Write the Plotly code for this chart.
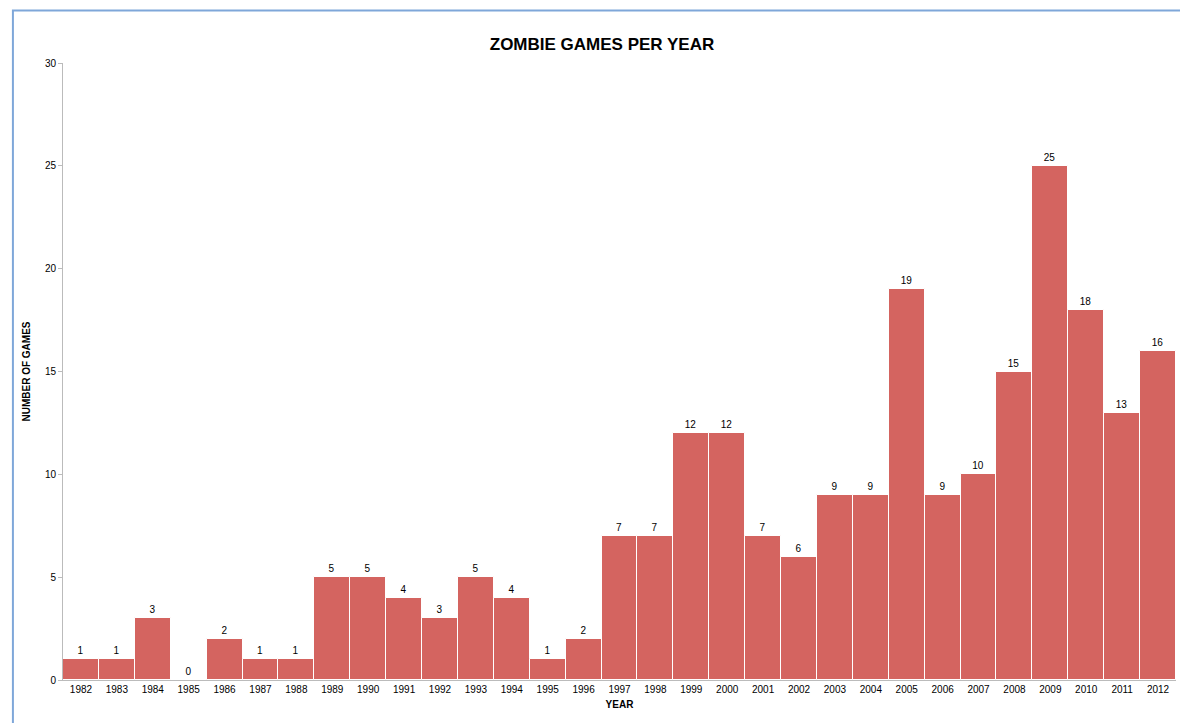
import plotly.graph_objects as go

years = [str(y) for y in range(1982, 2013)]
games = [1,1,3,0,2,1,1,5,5,4,3,5,4,1,2,7,7,12,12,7,6,9,9,19,9,10,15,25,18,13,16]

fig = go.Figure(go.Bar(
    x=years, y=games, text=[str(v) for v in games], textposition="outside",
    textfont=dict(size=10, color="black", family="Arial"),
    marker=dict(color="#D46460", line=dict(color="white", width=1)),
    width=1.0, cliponaxis=False,
))
fig.update_layout(
    width=1188, height=723,
    margin=dict(l=55, r=20, t=55, b=51),
    paper_bgcolor="white", plot_bgcolor="white",
    font=dict(family="Arial, Liberation Sans", size=10, color="black"),
    title=dict(text="<b>ZOMBIE GAMES PER YEAR</b>", x=0.5, xanchor="center", y=0.958,
               font=dict(size=17, color="black")),
    bargap=0,
    showlegend=False,
    xaxis=dict(title=dict(text="<b>YEAR</b>", font=dict(size=10), standoff=6),
               showline=True, linecolor="#BBBBBB", ticks="", tickfont=dict(size=10),
               showgrid=False),
    yaxis=dict(title=dict(text="<b>NUMBER OF GAMES</b>", font=dict(size=10), standoff=12),
               range=[0, 30], tickvals=[0,5,10,15,20,25,30], showgrid=False,
               showline=True, linecolor="#BBBBBB", ticks="outside", ticklen=4,
               tickcolor="#BBBBBB", tickfont=dict(size=10), zeroline=False),
    shapes=[dict(type="rect", xref="paper", yref="paper", x0=-0.045, x1=1.015,
                 y0=-0.072, y1=1.085, line=dict(color="#7FA7D9", width=2))],
)
fig.write_html("out.html")
